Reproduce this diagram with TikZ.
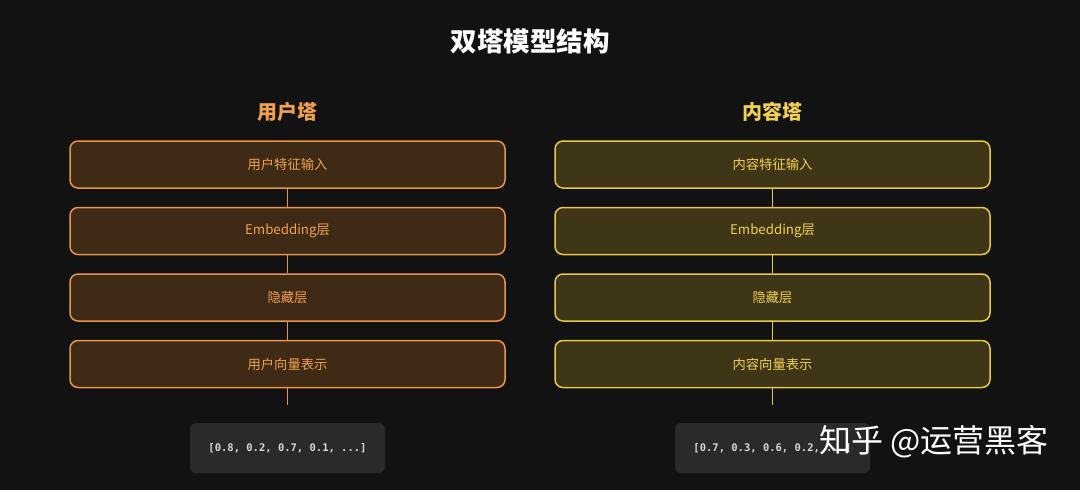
\documentclass[tikz,border=0pt]{standalone}
\usepackage{fontspec}
\setmainfont{Noto Sans CJK SC}
\newfontfamily\monof{DejaVu Sans Mono}
\definecolor{bgc}{HTML}{121212}
\definecolor{ubord}{HTML}{E8944A}
\definecolor{ufill}{HTML}{3E2A15}
\definecolor{utext}{HTML}{F0A050}
\definecolor{ibord}{HTML}{E6C84C}
\definecolor{ifill}{HTML}{3E3616}
\definecolor{itext}{HTML}{F2D055}
\definecolor{vfill}{HTML}{2A2A2B}
\definecolor{vtext}{HTML}{D8D8D8}
\begin{document}
\begin{tikzpicture}[x=1pt,y=-1pt,
  ubox/.style={draw=ubord,fill=ufill,line width=1.5pt,rounded corners=8pt,minimum width=435pt,minimum height=47pt,text=utext,font=\fontsize{13.3}{15}\selectfont,inner sep=0pt},
  ibox/.style={draw=ibord,fill=ifill,line width=1.5pt,rounded corners=8pt,minimum width=435pt,minimum height=47pt,text=itext,font=\fontsize{13.3}{15}\selectfont,inner sep=0pt},
  vbox/.style={fill=vfill,rounded corners=6pt,minimum width=195pt,minimum height=50pt,text=vtext,font=\monof\bfseries\fontsize{10.5}{12}\selectfont,inner sep=0pt},
  ulink/.style={draw=ubord,line width=1.6pt},
  ilink/.style={draw=ibord,line width=1.6pt},
  ttl/.style={font=\fontsize{20}{23}\selectfont\bfseries}]
\fill[bgc] (0,0) rectangle (1080,490);
\useasboundingbox (0,0) rectangle (1080,490);
\node[text=white,font=\fontsize{26.5}{30}\selectfont\bfseries] (title) at (530,41) {双塔模型结构};
\node[ttl,text=utext] (ut) at (287.5,112) {用户塔};
\node[ttl,text=itext] (it) at (772.5,112) {内容塔};
% user tower
\node[ubox] (u1) at (287.5,164.5) {用户特征输入};
\node[ubox] (u2) at (287.5,231) {Embedding层};
\node[ubox] (u3) at (287.5,297.5) {隐藏层};
\node[ubox] (u4) at (287.5,364) {用户向量表示};
\coordinate (ue) at (287.5,405);
\node[vbox] (uv) at (287.5,448) {[0.8, 0.2, 0.7, 0.1, ...]};
\draw[ulink] (u1) -- (u2);
\draw[ulink] (u2) -- (u3);
\draw[ulink] (u3) -- (u4);
\draw[ulink] (u4) -- (ue);
% item tower
\node[ibox] (i1) at (772.5,164.5) {内容特征输入};
\node[ibox] (i2) at (772.5,231) {Embedding层};
\node[ibox] (i3) at (772.5,297.5) {隐藏层};
\node[ibox] (i4) at (772.5,364) {内容向量表示};
\coordinate (ie) at (772.5,405);
\node[vbox] (iv) at (772.5,448) {[0.7, 0.3, 0.6, 0.2, ...]};
\draw[ilink] (i1) -- (i2);
\draw[ilink] (i2) -- (i3);
\draw[ilink] (i3) -- (i4);
\draw[ilink] (i4) -- (ie);
% watermark
\node[text=white,font=\fontsize{32}{34}\selectfont,anchor=west,inner sep=0pt] (wm) at (819,442) {知乎 @运营黑客};
\end{tikzpicture}
\end{document}
